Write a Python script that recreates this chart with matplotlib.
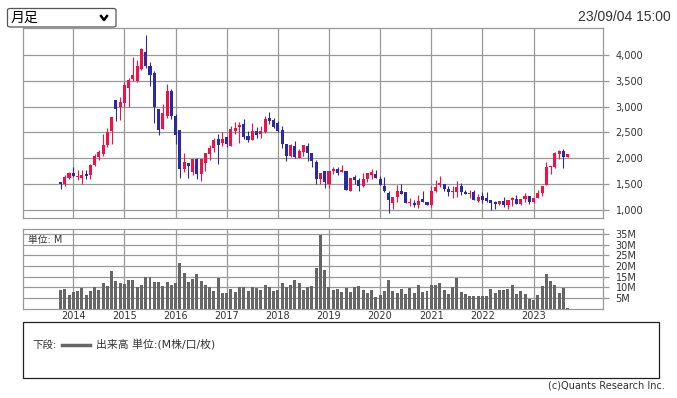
import numpy as np
import matplotlib
matplotlib.use("Agg")
import matplotlib.pyplot as plt
from matplotlib.patches import FancyBboxPatch, Rectangle
from matplotlib.lines import Line2D
import pandas as pd

plt.rcParams["font.family"] = ["DejaVu Sans", "Noto Sans CJK JP"]

# monthly candles, Oct 2013 .. Sep 2023
months = pd.date_range("2013-10-01", periods=120, freq="MS")

opens = [1538, 1506, 1628, 1718, 1641, 1628, 1705, 1686, 1878, 2032,
         2090, 2250, 2532, 3122, 2994, 3071, 3365, 3526, 3500, 3724,
         4058, 3795, 3660, 2961, 2564, 2821, 3308, 2814, 2545, 1795,
         1910, 1737, 1987, 1705, 1910, 2083, 2199, 2372, 2288, 2404,
         2244, 2532, 2603, 2660, 2436, 2353, 2519, 2468, 2500, 2782,
         2737, 2679, 2545, 2276, 2051, 2237, 2013, 2122, 2237, 2096,
         1923, 1609, 1750, 1494, 1750, 1795, 1744, 1750, 1359, 1641,
         1583, 1455, 1603, 1686, 1699, 1603, 1468, 1333, 1128, 1244,
         1372, 1340, 1141, 1141, 1103, 1205, 1147, 1096, 1372, 1481,
         1506, 1404, 1340, 1353, 1468, 1353, 1308, 1353, 1179, 1269,
         1237, 1192, 1147, 1109, 1179, 1090, 1199, 1218, 1109, 1205,
         1269, 1154, 1224, 1321, 1474, 1827, 1840, 2083, 2141, 2032]
highs = [1545, 1686, 1737, 1833, 1769, 1769, 1782, 1891, 2083, 2167,
         2468, 2583, 2795, 3122, 3192, 3481, 3558, 3968, 3897, 4141,
         4391, 3872, 3692, 2961, 3045, 3429, 3333, 2865, 2545, 2103,
         1910, 1994, 2006, 1987, 2096, 2263, 2385, 2468, 2500, 2404,
         2635, 2705, 2705, 2756, 2519, 2679, 2603, 2635, 2820, 2891,
         2788, 2731, 2635, 2276, 2276, 2327, 2180, 2263, 2295, 2096,
         1962, 1718, 1750, 1750, 1827, 1827, 1878, 1750, 1622, 1680,
         1622, 1718, 1718, 1801, 1776, 1654, 1635, 1365, 1256, 1487,
         1506, 1340, 1237, 1186, 1288, 1372, 1147, 1462, 1583, 1660,
         1506, 1468, 1462, 1564, 1526, 1385, 1378, 1385, 1314, 1346,
         1353, 1192, 1173, 1173, 1250, 1199, 1250, 1295, 1218, 1333,
         1269, 1237, 1378, 1468, 1929, 1859, 2115, 2160, 2180, 2083]
lows = [1397, 1455, 1590, 1641, 1577, 1494, 1609, 1609, 1859, 1974,
        2045, 2212, 2282, 2724, 2744, 2987, 2994, 3494, 3481, 3705,
        3750, 3397, 2680, 2442, 2558, 2776, 2763, 2282, 1622, 1737,
        1622, 1686, 1590, 1570, 1763, 1974, 2122, 1897, 2231, 2212,
        2244, 2468, 2295, 2378, 2320, 2353, 2385, 2397, 2481, 2673,
        2596, 2506, 2199, 1955, 2019, 2006, 2006, 2038, 1955, 1840,
        1506, 1494, 1429, 1429, 1699, 1686, 1731, 1378, 1359, 1494,
        1359, 1436, 1551, 1609, 1628, 1481, 1340, 936, 1013, 1147,
        1314, 1128, 1071, 1064, 1038, 1147, 1096, 1064, 1353, 1442,
        1365, 1276, 1237, 1256, 1282, 1301, 1237, 1199, 1160, 1141,
        1160, 1006, 1026, 1096, 1058, 1026, 1071, 1109, 1096, 1160,
        1122, 1141, 1224, 1263, 1474, 1705, 1821, 1987, 1814, 2032]
closes = [1506, 1641, 1718, 1667, 1667, 1680, 1667, 1872, 2051, 2122,
          2263, 2506, 2795, 2955, 3083, 3410, 3513, 3622, 3795, 4122,
          3782, 3622, 2994, 2551, 2872, 3308, 2821, 2455, 1795, 1923,
          1859, 1994, 1705, 1987, 2096, 2199, 2353, 2263, 2372, 2276,
          2564, 2583, 2641, 2410, 2353, 2519, 2455, 2526, 2763, 2724,
          2609, 2538, 2282, 2051, 2263, 2026, 2135, 2250, 2109, 1942,
          1609, 1718, 1532, 1750, 1795, 1712, 1782, 1378, 1622, 1583,
          1455, 1603, 1718, 1731, 1628, 1481, 1365, 1186, 1256, 1372,
          1314, 1128, 1160, 1090, 1179, 1147, 1096, 1372, 1442, 1519,
          1397, 1340, 1372, 1449, 1340, 1308, 1321, 1199, 1256, 1199,
          1173, 1128, 1109, 1167, 1090, 1199, 1231, 1109, 1218, 1269,
          1160, 1237, 1333, 1468, 1833, 1859, 2103, 2135, 2032, 2083]
volumes = [8.9, 9.4, 6.6, 8.0, 8.4, 9.8, 6.6, 8.4, 10.3, 8.9,
           12.2, 10.8, 17.8, 13.1, 12.2, 11.7, 13.6, 13.6, 10.0, 11.3,
           14.8, 14.8, 12.7, 12.7, 10.8, 12.7, 11.3, 12.2, 21.6, 16.9,
           12.7, 14.1, 16.4, 13.1, 11.3, 10.3, 8.4, 14.5, 7.5, 7.5,
           9.4, 8.0, 10.3, 10.3, 8.4, 10.3, 9.8, 8.9, 11.3, 10.3,
           8.4, 8.9, 12.2, 10.0, 11.3, 13.6, 12.2, 8.9, 10.3, 10.8,
           19.2, 34.7, 18.3, 10.3, 8.9, 9.4, 8.0, 9.8, 8.0, 10.3,
           10.8, 8.9, 7.5, 8.9, 5.2, 6.6, 8.4, 13.6, 8.4, 7.5,
           9.4, 7.0, 9.8, 7.5, 11.3, 8.0, 8.4, 11.3, 11.3, 12.2,
           8.9, 7.0, 10.3, 14.5, 8.0, 7.0, 6.1, 6.1, 6.1, 6.1,
           6.1, 9.4, 7.5, 8.9, 8.9, 9.4, 11.3, 7.0, 8.4, 7.0,
           4.7, 3.8, 6.6, 10.8, 16.4, 13.1, 11.3, 7.5, 9.8, 0.4]

price_ticks = [1000, 1500, 2000, 2500, 3000, 3500, 4000]
vol_ticks = [5, 10, 15, 20, 25, 30, 35]

RED = "#ee1248"
BLUE = "#2b2b9e"
GRID = "#999999"
TXT = "#333333"

W, H = 677, 398
fig = plt.figure(figsize=(W / 100, H / 100), dpi=100)


def fx(px):
    return px / W


def fy(py):
    return 1 - py / H


ax = fig.add_axes([fx(23), fy(218.3), fx(603) - fx(23), fy(28) - fy(218.3)])
axv = fig.add_axes([fx(23), fy(308.5), fx(603) - fx(23), fy(229.3) - fy(308.5)])

x = np.arange(len(months))
o = np.array(opens, float)
c = np.array(closes, float)
hi = np.array(highs, float)
lo = np.array(lows, float)
cols = np.where(c >= o, RED, BLUE)
year_idx = [i for i, m in enumerate(months) if m.month == 1]
year_lab = [str(months[i].year) for i in year_idx]

for a in (ax, axv):
    a.set_xlim(-8.8, 127.3)
    a.set_xticks(year_idx)
    a.grid(True, color=GRID, lw=0.9)
    a.set_axisbelow(True)
    for s in a.spines.values():
        s.set_color(GRID)
        s.set_linewidth(0.9)
    a.yaxis.tick_right()
    a.tick_params(axis="y", direction="out", length=4, width=0.9, color=GRID,
                  pad=5, labelsize=7, labelcolor=TXT)

# price candles
ax.vlines(x, lo, hi, colors=cols, lw=0.8, zorder=2)
ax.bar(x, np.maximum(np.abs(c - o), 20), bottom=np.minimum(o, c), width=0.72,
       color=cols, linewidth=0, zorder=3)
ax.set_ylim(839, 4522)
ax.set_yticks(price_ticks)
ax.set_yticklabels([f"{v:,}" for v in price_ticks])
ax.tick_params(axis="x", length=0, labelbottom=False)

# volume
axv.bar(x, volumes, width=0.7, color="#666666", linewidth=0, zorder=3)
axv.set_ylim(0, 37.35)
axv.set_yticks(vol_ticks)
axv.set_yticklabels([f"{v}M" for v in vol_ticks])
axv.set_xticklabels(year_lab)
axv.tick_params(axis="x", length=0, pad=2, labelsize=7, labelcolor=TXT)
axv.text(0.009, 0.93, "単位: M", transform=axv.transAxes, fontsize=7,
         color=TXT, va="top", ha="left")

# header: period selector and timestamp
fig.patches.append(FancyBboxPatch((fx(7.5), fy(27)), fx(116) - fx(7.5), fy(8.5) - fy(27),
                                  boxstyle="round,pad=0,rounding_size=0.004",
                                  transform=fig.transFigure, fill=False,
                                  edgecolor="#555555", lw=0.9))
fig.text(fx(11), fy(18), "月足", fontsize=10, va="center", ha="left",
         color="black", family=["Noto Sans CJK JP"])
fig.lines.append(Line2D([fx(101), fx(104), fx(107)], [fy(16), fy(20), fy(16)],
                        transform=fig.transFigure, color="black", lw=1.8))
fig.text(fx(671), fy(17), "23/09/04 15:00", fontsize=10, va="center",
         ha="right", color=TXT, family=["Liberation Sans"])

# legend box
fig.patches.append(Rectangle((fx(22.6), fy(378)), fx(659) - fx(22.6), fy(322) - fy(378),
                             transform=fig.transFigure, fill=False,
                             edgecolor="#222222", lw=0.9))
fig.text(fx(32), fy(345), "下段:", fontsize=7.5, va="center", ha="left", color=TXT)
fig.lines.append(Line2D([fx(62), fx(90)], [fy(345), fy(345)],
                        transform=fig.transFigure, color="#666666", lw=2.5))
fig.text(fx(96), fy(345), "出来高 単位:(M株/口/枚)", fontsize=7.8, va="center",
         ha="left", color=TXT)
fig.text(fx(665), fy(386), "(c)Quants Research Inc.", fontsize=7, va="center",
         ha="right", color=TXT)

fig.savefig("out.png", dpi=100)
